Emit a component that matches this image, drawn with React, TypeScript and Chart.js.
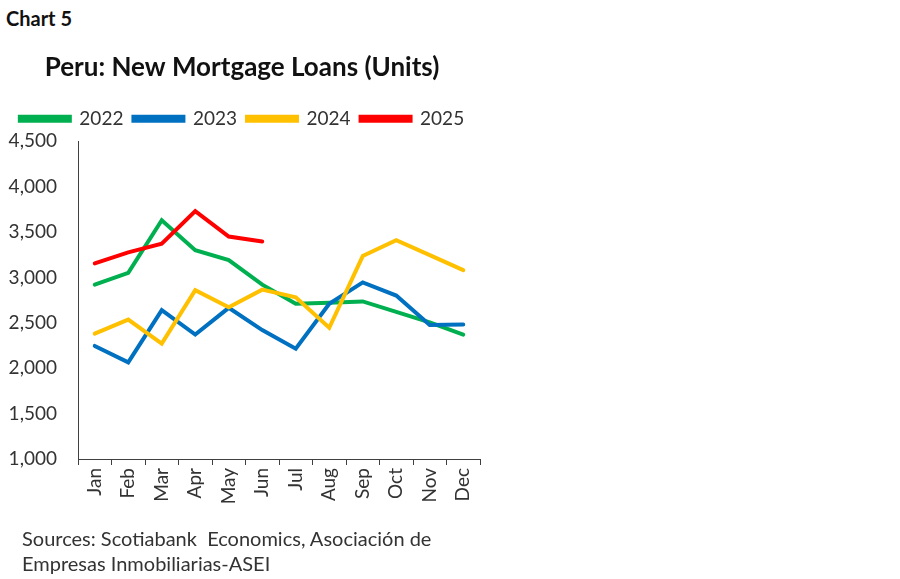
import { useEffect, useRef } from 'react';
import { Chart, registerables } from 'chart.js';

Chart.register(...registerables);

const months = ['Jan', 'Feb', 'Mar', 'Apr', 'May', 'Jun', 'Jul', 'Aug', 'Sep', 'Oct', 'Nov', 'Dec'];
const loans2022 = [2920, 3050, 3630, 3300, 3190, 2920, 2710, 2720, 2735, 2620, 2505, 2370];
const loans2023 = [2245, 2065, 2640, 2370, 2665, 2420, 2215, 2710, 2945, 2800, 2475, 2480];
const loans2024 = [2380, 2535, 2270, 2860, 2670, 2865, 2780, 2445, 3235, 3410, 3245, 3080];
const loans2025 = [3155, 3275, 3370, 3730, 3450, 3395];
const yTicks = [1000, 1500, 2000, 2500, 3000, 3500, 4000, 4500];

const axisColor = '#404040';
const labelFont = 'Lato, "Open Sans", sans-serif';

// a bit more room under the legend
const legendGap = {
  id: 'legendGap',
  beforeInit(chart: any) {
    const fit = chart.legend.fit;
    chart.legend.fit = function () {
      fit.bind(chart.legend)();
      this.height += 3;
    };
  },
};

export default function App() {
  const chartRef = useRef<HTMLCanvasElement>(null);

  useEffect(() => {
    if (!chartRef.current) return;

    const line = (label: string, data: number[], color: string, order: number) => ({
      label,
      data,
      borderColor: color,
      backgroundColor: color,
      borderWidth: 4,
      borderCapStyle: 'round' as const,
      pointRadius: 0,
      tension: 0,
      order,
    });

    const chart = new Chart(chartRef.current, {
      type: 'line',
      data: {
        labels: months,
        datasets: [
          line('2022', loans2022, '#00B050', 4),
          line('2023', loans2023, '#0070C0', 3),
          line('2024', loans2024, '#FFC000', 2),
          line('2025', loans2025, '#FF0000', 1),
        ],
      },
      plugins: [legendGap],
      options: {
        responsive: false,
        animation: false,
        layout: { padding: { top: 46, left: 4, right: 10, bottom: 60 } },
        plugins: {
          title: {
            display: true,
            text: 'Peru: New Mortgage Loans (Units)',
            color: '#111',
            font: { family: labelFont, size: 26, weight: 'bold' },
            padding: { top: 6, bottom: 16 },
          },
          legend: {
            display: true,
            labels: {
              boxWidth: 50,
              boxHeight: 4,
              padding: 10,
              color: '#333',
              font: { family: labelFont, size: 19 },
              sort: (a, b) => (a.datasetIndex ?? 0) - (b.datasetIndex ?? 0),
            },
          },
          tooltip: { enabled: false },
        },
        scales: {
          x: {
            offset: true,
            afterFit: (scale) => {
              scale.height = 60;
            },
            grid: {
              offset: true,
              drawOnChartArea: false,
              drawTicks: true,
              tickLength: 6,
              color: axisColor,
            },
            border: { color: axisColor, width: 1 },
            ticks: {
              minRotation: 90,
              maxRotation: 90,
              color: '#333',
              padding: 3,
              font: { family: labelFont, size: 19 },
            },
          },
          y: {
            min: 1000,
            max: 4500,
            afterBuildTicks: (scale) => {
              scale.ticks = yTicks.map((value) => ({ value }));
            },
            afterFit: (scale) => {
              scale.width = 74;
            },
            grid: { display: false, drawTicks: false },
            border: { color: axisColor, width: 1 },
            ticks: {
              color: '#333',
              padding: 21,
              font: { family: labelFont, size: 19 },
              callback: (v) => Number(v).toLocaleString('en-US'),
            },
          },
        },
      },
    });

    return () => {
      chart.destroy();
    };
  }, []);

  return (
    <div style={{ position: 'fixed', left: 0, top: 0, width: 900, height: 579, background: '#fff', overflow: 'hidden' }}>
      <div style={{ position: 'absolute', left: 6, top: 6, fontFamily: labelFont, fontWeight: 700, fontSize: 20, color: '#111' }}>
        Chart 5
      </div>
      <canvas ref={chartRef} width={490} height={579} style={{ position: 'absolute', left: 0, top: 0 }} />
      <div style={{ position: 'absolute', left: 22, top: 526, fontFamily: labelFont, fontSize: 20, lineHeight: '25px', color: '#333' }}>
        Sources: Scotiabank&nbsp; Economics, Asociación de
        <br />
        Empresas Inmobiliarias-ASEI
      </div>
    </div>
  );
}
